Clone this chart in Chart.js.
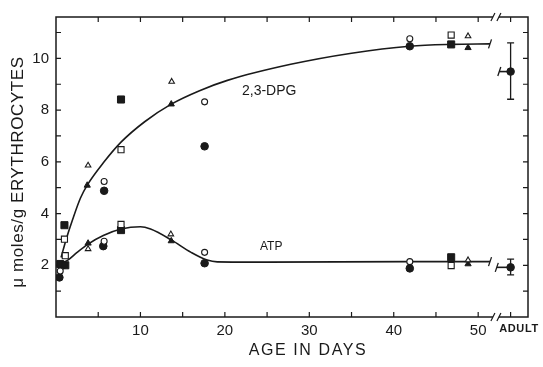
<!DOCTYPE html>
<html>
<head>
<meta charset="utf-8">
<script src="https://cdn.jsdelivr.net/npm/chart.js@4.4.1/dist/chart.umd.min.js"></script>
<style>
  html, body { margin: 0; padding: 0; background: #fff; }
  #wrap { width: 543px; height: 367px; }
</style>
</head>
<body>
<div id="wrap"><canvas id="chart"></canvas></div>
<script>
// measured points, [age in days, umol/g]
const filledCircle = [[5.7, 4.88], [17.6, 6.6], [41.9, 10.47], [0.4, 1.53], [5.6, 2.74], [17.6, 2.08], [41.9, 1.88], [0.8, 2.0]];
const openCircle   = [[5.7, 5.24], [17.6, 8.32], [41.9, 10.76], [0.5, 1.78], [5.7, 2.93], [17.6, 2.5], [41.9, 2.14]];
const filledSquare = [[1.0, 3.55], [7.7, 8.41], [46.8, 10.54], [0.5, 2.05], [1.1, 2.0], [7.7, 3.36], [46.8, 2.31]];
const openSquare   = [[1.0, 3.01], [7.7, 6.47], [46.8, 10.9], [1.1, 2.37], [7.7, 3.58], [46.8, 1.99]];
const filledTri    = [[3.7, 5.09], [13.65, 8.23], [48.8, 10.41], [3.8, 2.85], [13.65, 2.94], [48.8, 2.05]];
const openTri      = [[3.8, 5.86], [13.7, 9.1], [48.8, 10.86], [3.8, 2.63], [13.6, 3.2], [48.8, 2.2]];

// hand-drawn curves
const dpgCurveDays = [0.6, 1.2, 2.0, 2.9, 3.7, 5.7, 7.7, 10.5, 13.65, 17, 20.3, 27.8, 35, 41.9, 46.8, 51.4];
const dpgCurveVals = [2.3, 3.0, 3.8, 4.6, 5.1, 6.0, 6.76, 7.55, 8.23, 8.75, 9.15, 9.77, 10.2, 10.47, 10.54, 10.56];
const atpCurveDays = [0.8, 1.4, 2.5, 3.8, 5.6, 7.7, 10, 11.2, 13.65, 16, 17.9, 19.1, 25, 41.9, 51.4];
const atpCurveVals = [2.1, 2.2, 2.5, 2.82, 3.15, 3.4, 3.49, 3.4, 2.98, 2.5, 2.2, 2.13, 2.12, 2.14, 2.14];

// adult values (mean, low, high)
const ADULT_X = 53.84;
const adultDpg = [9.49, 8.42, 10.6];
const adultAtp = [1.92, 1.63, 2.24];

const xTickDays = [5, 10, 15, 20, 25, 30, 35, 40, 45, 50];
const yTickVals = [1, 2, 3, 4, 5, 6, 7, 8, 9, 10, 11];

const INK = '#1a1a1a';
const FONT = '"Liberation Sans", Arial, sans-serif';

function pts(arr) { return arr.map(p => ({ x: p[0], y: p[1] })); }
function curve(days, vals) { return days.map((d, i) => ({ x: d, y: vals[i] })); }

function symbolSet(data, style, filled, radius) {
  return {
    type: 'scatter',
    data: pts(data),
    pointStyle: style,
    pointRadius: radius,
    pointBorderWidth: filled ? 1 : 1.1,
    pointBorderColor: INK,
    pointBackgroundColor: filled ? INK : '#fff',
    order: 0
  };
}

function lineSet(data) {
  return {
    type: 'line',
    data: data,
    borderColor: INK,
    borderWidth: 1.6,
    pointRadius: 0,
    fill: false,
    cubicInterpolationMode: 'monotone',
    order: 1
  };
}

const decor = {
  id: 'decor',
  beforeDatasetsDraw(chart) {
    const { ctx, chartArea: a, scales: { x, y } } = chart;
    ctx.save();
    ctx.strokeStyle = INK;
    ctx.lineWidth = 1.5;
    ctx.strokeRect(a.left, a.top, a.right - a.left, a.bottom - a.top);
    ctx.lineWidth = 1.2;
    ctx.beginPath();
    xTickDays.concat([ADULT_X]).forEach(d => {
      const px = x.getPixelForValue(d);
      ctx.moveTo(px, a.bottom); ctx.lineTo(px, a.bottom - 5);
      ctx.moveTo(px, a.top); ctx.lineTo(px, a.top + 5);
    });
    yTickVals.forEach(v => {
      const py = y.getPixelForValue(v);
      ctx.moveTo(a.left, py); ctx.lineTo(a.left + 5, py);
      ctx.moveTo(a.right, py); ctx.lineTo(a.right - 5, py);
    });
    ctx.stroke();

    // axis breaks
    const bx = x.getPixelForValue(52.1);
    [a.top, a.bottom].forEach(yy => {
      ctx.fillStyle = '#fff';
      ctx.fillRect(bx - 3, yy - 2, 6, 4);
      ctx.beginPath();
      ctx.moveTo(bx - 5, yy + 4); ctx.lineTo(bx - 1, yy - 4);
      ctx.moveTo(bx + 1, yy + 4); ctx.lineTo(bx + 5, yy - 4);
      ctx.stroke();
    });
    ctx.restore();
  },
  afterDatasetsDraw(chart) {
    const { ctx, chartArea: a, scales: { x, y } } = chart;
    ctx.save();
    ctx.strokeStyle = INK;
    ctx.fillStyle = INK;
    ctx.lineWidth = 1.3;

    // error bars on adult values
    const ax = x.getPixelForValue(ADULT_X);
    [adultDpg, adultAtp].forEach(v => {
      const lo = y.getPixelForValue(v[1]), hi = y.getPixelForValue(v[2]);
      ctx.beginPath();
      ctx.moveTo(ax, lo); ctx.lineTo(ax, hi);
      ctx.moveTo(ax - 3.5, lo); ctx.lineTo(ax + 3.5, lo);
      ctx.moveTo(ax - 3.5, hi); ctx.lineTo(ax + 3.5, hi);
      ctx.stroke();
    });

    // break marks on the curves
    const slash = (px, py) => {
      ctx.beginPath();
      ctx.moveTo(px - 1.5, py + 4.5); ctx.lineTo(px + 1.5, py - 4.5);
      ctx.stroke();
    };
    const endX = x.getPixelForValue(dpgCurveDays[dpgCurveDays.length - 1]);
    slash(endX, y.getPixelForValue(dpgCurveVals[dpgCurveVals.length - 1]));
    slash(x.getPixelForValue(atpCurveDays[atpCurveDays.length - 1]), y.getPixelForValue(atpCurveVals[atpCurveVals.length - 1]));
    slash(x.getPixelForValue(52.5), y.getPixelForValue(adultDpg[0]));
    slash(x.getPixelForValue(52.2), y.getPixelForValue(adultAtp[0]));

    // curve labels
    ctx.textBaseline = 'middle';
    ctx.textAlign = 'left';
    ctx.font = '14px ' + FONT;
    ctx.fillText('2,3-DPG', 242, 91);
    ctx.font = '12px ' + FONT;
    ctx.fillText('ATP', 260, 247);

    // ADULT tick label
    ctx.textAlign = 'center';
    ctx.font = 'bold 11px ' + FONT;
    ctx.letterSpacing = '0.6px';
    ctx.fillText('ADULT', 519, 329);

    // axis titles
    ctx.font = '16px ' + FONT;
    ctx.letterSpacing = '1.6px';
    ctx.fillText('AGE IN DAYS', 308, 351);
    ctx.save();
    ctx.translate(18, 172);
    ctx.rotate(-Math.PI / 2);
    ctx.font = '17px ' + FONT;
    ctx.letterSpacing = '0.6px';
    ctx.fillText('\u03bc moles/g ERYTHROCYTES', 0, 0);
    ctx.restore();
    ctx.restore();
  }
};

new Chart(document.getElementById('chart'), {
  data: {
    datasets: [
      symbolSet(openTri, 'triangle', false, 3.2),
      symbolSet(openCircle, 'circle', false, 3),
      symbolSet(openSquare, 'rect', false, 4.3),
      symbolSet(filledTri, 'triangle', true, 3.6),
      symbolSet(filledSquare, 'rect', true, 5),
      symbolSet(filledCircle.concat([[ADULT_X, adultDpg[0]], [ADULT_X, adultAtp[0]]]), 'circle', true, 3.8),
      lineSet(curve(dpgCurveDays, dpgCurveVals)),
      lineSet(curve(atpCurveDays, atpCurveVals)),
      lineSet([{ x: 52.5, y: adultDpg[0] }, { x: ADULT_X, y: adultDpg[0] }]),
      lineSet([{ x: 52.2, y: adultAtp[0] }, { x: ADULT_X, y: adultAtp[0] }])
    ]
  },
  options: {
    responsive: true,
    maintainAspectRatio: false,
    animation: false,
    events: [],
    layout: { padding: { left: 0, top: 17, right: 15, bottom: 0 } },
    plugins: { legend: { display: false }, tooltip: { enabled: false } },
    scales: {
      x: {
        type: 'linear',
        min: 0,
        max: 55.9,
        afterFit: s => { s.height = 50; },
        afterBuildTicks: s => { s.ticks = xTickDays.map(v => ({ value: v })); },
        grid: { display: false, drawTicks: false },
        border: { display: false },
        ticks: {
          autoSkip: false,
          maxRotation: 0,
          padding: 5,
          color: INK,
          font: { family: FONT, size: 15 },
          callback: v => (v % 10 === 0 ? v : '')
        }
      },
      y: {
        type: 'linear',
        min: 0,
        max: 11.6,
        afterFit: s => { s.width = 56; },
        afterBuildTicks: s => { s.ticks = yTickVals.map(v => ({ value: v })); },
        grid: { display: false, drawTicks: false },
        border: { display: false },
        ticks: {
          autoSkip: false,
          padding: 7,
          color: INK,
          font: { family: FONT, size: 15 },
          callback: v => (v % 2 === 0 ? v : '')
        }
      }
    }
  },
  plugins: [decor]
});
</script>
</body>
</html>
